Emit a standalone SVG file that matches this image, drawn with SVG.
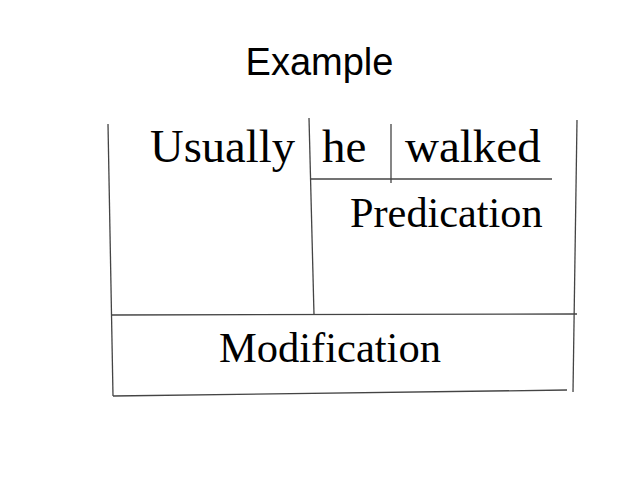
<svg xmlns="http://www.w3.org/2000/svg" width="640" height="480" viewBox="0 0 640 480">
<style>
.ln{stroke:#444;stroke-width:1.3;fill:none}
.s{font-family:"Liberation Serif","Times New Roman",serif;fill:#000}
.t{font-family:"Liberation Sans",Arial,sans-serif;fill:#000}
</style>
<rect width="640" height="480" fill="#fff"/>
<text class="t" x="319.5" y="75" font-size="38" text-anchor="middle">Example</text>
<g id="connectors">
<line class="ln" x1="108" y1="124" x2="113" y2="396"/>
<line class="ln" x1="113" y1="396" x2="567" y2="390"/>
<line class="ln" x1="577" y1="120" x2="573" y2="392"/>
<line class="ln" x1="309" y1="118" x2="314" y2="315"/>
<line class="ln" x1="310" y1="179" x2="552" y2="179"/>
<line class="ln" x1="391" y1="124" x2="391" y2="183"/>
<line class="ln" x1="112" y1="315" x2="577" y2="314"/>
</g>
<g id="usually"><text class="s" x="150" y="162" font-size="47" textLength="145" lengthAdjust="spacingAndGlyphs">Usually</text></g>
<g id="he"><text class="s" x="322" y="162" font-size="47">he</text></g>
<g id="walked"><text class="s" x="405" y="162" font-size="47">walked</text></g>
<g id="predication"><text class="s" x="350" y="227" font-size="42.3">Predication</text></g>
<g id="modification"><text class="s" x="219" y="362" font-size="42.5">Modification</text></g>
</svg>
